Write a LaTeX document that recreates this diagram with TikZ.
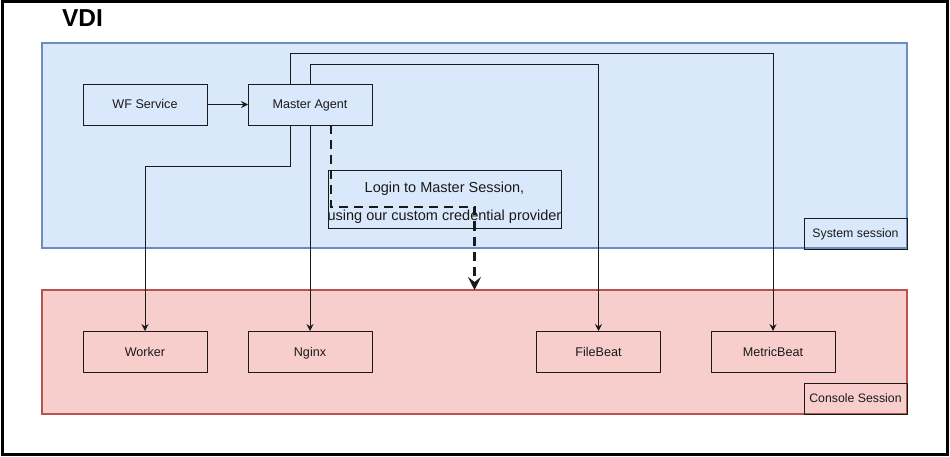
\documentclass[tikz,border=0pt]{standalone}
\usepackage{fontspec}
\setmainfont{Liberation Sans}
\usetikzlibrary{arrows.meta}
\definecolor{sysfill}{HTML}{DAE8FC}
\definecolor{sysline}{HTML}{6C8EBF}
\definecolor{conffill}{HTML}{F8CECC}
\definecolor{conline}{HTML}{B85450}
\definecolor{ink}{HTML}{1A1A1A}
\tikzset{
  every node/.style={inner sep=0pt, outer sep=0pt},
  svc/.style={draw=ink, line width=0.8pt, minimum width=124pt, minimum height=41pt, text height=9.5pt, text depth=0.5pt, font=\fontsize{12.6}{14}\selectfont, text=ink},
  session/.style={line width=1.5pt},
  tag/.style={draw=ink, line width=0.8pt, minimum width=103pt, minimum height=31pt, text height=9pt, text depth=0.5pt, font=\fontsize{12.3}{14}\selectfont, text=ink},
  conn/.style={draw=ink, line width=0.8pt, -{Stealth[length=7pt, width=7pt, inset=2.5pt]}},
  login/.style={draw=ink, dashed, dash pattern=on 9pt off 6pt, line width=2.6pt, -{Stealth[length=13pt, width=13pt, inset=5pt]}}
}
\begin{document}
\begin{tikzpicture}[x=1pt, y=-1pt]
\useasboundingbox (0,0) rectangle (950,457);
\node[draw=black, line width=3pt, minimum width=945pt, minimum height=452pt] (frame) at (474.5,228) {};
\node[font=\bfseries\fontsize{24.5}{28}\selectfont, anchor=west] (vdi) at (62,18) {VDI};

\node[session, draw=sysline, fill=sysfill, minimum width=865pt, minimum height=205pt] (sys) at (474.5,145.5) {};
\node[session, draw=conline, fill=conffill, minimum width=865pt, minimum height=124pt] (con) at (474.5,352) {};

\node[tag] (systag) at (855.5,233.5) {System session};
\node[tag] (contag) at (855.5,398.5) {Console Session};

\node[svc] (wf) at (145,104.5) {WF Service};
\node[svc] (ma) at (310,104.5) {Master Agent};
\node[svc] (wk) at (145,351.5) {Worker};
\node[svc] (ng) at (310,351.5) {Nginx};
\node[svc] (fb) at (598.5,351.5) {FileBeat};
\node[svc] (mb) at (773,351.5) {MetricBeat};

\node[draw=ink, line width=0.8pt, minimum width=233pt, minimum height=58pt] (lg) at (444.5,199) {};
\node[align=center, font=\fontsize{14.5}{28}\selectfont, text=ink] (lgtext) at (444.5,203) {Login to Master Session,\\using our custom credential provider};

\draw[conn] (wf) -- (ma);
\draw[conn] ([xshift=-20pt]ma.north) -- ++(0,-31) -| (mb.north);
\draw[conn] (ma.north) -- ++(0,-20) -| (fb.north);
\draw[conn] ([xshift=-20pt]ma.south) -- ++(0,41) -| (wk.north);
\draw[conn] (ma.south) -- (ng.north);
\draw[login] ([xshift=21pt]ma.south) -- ++(0,82) -| (con.north);
\end{tikzpicture}
\end{document}
